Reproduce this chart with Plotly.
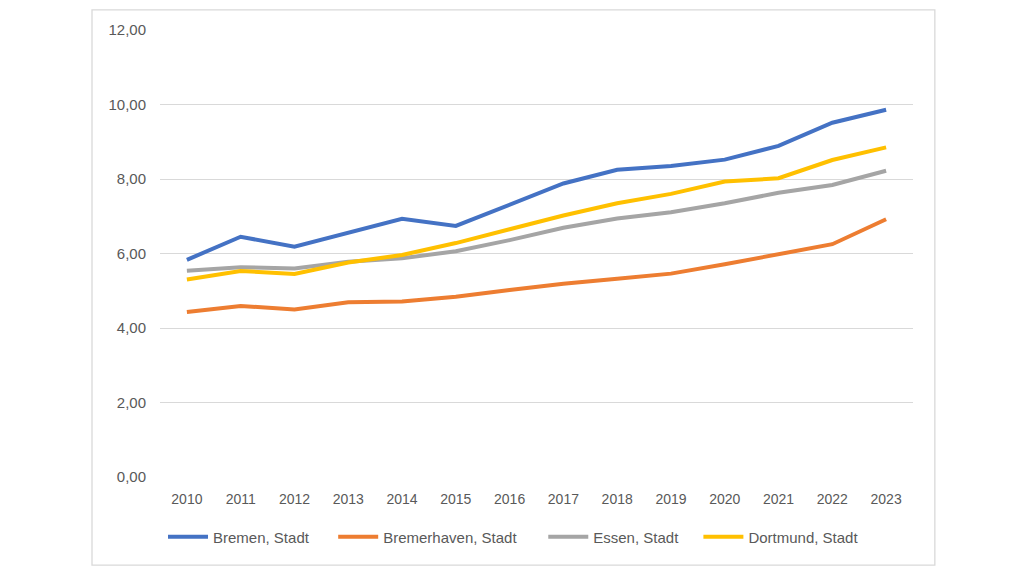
import plotly.graph_objects as go

years = [str(y) for y in range(2010, 2024)]
bremen = [5.83, 6.45, 6.18, 6.55, 6.93, 6.74, 7.30, 7.88, 8.25, 8.35, 8.52, 8.89, 9.51, 9.86]
bremerhaven = [4.43, 4.59, 4.50, 4.69, 4.71, 4.84, 5.02, 5.19, 5.32, 5.46, 5.71, 5.97, 6.25, 6.92]
essen = [5.54, 5.63, 5.60, 5.78, 5.87, 6.06, 6.36, 6.69, 6.94, 7.11, 7.35, 7.63, 7.84, 8.22]
dortmund = [5.30, 5.53, 5.45, 5.76, 5.96, 6.28, 6.65, 7.02, 7.35, 7.60, 7.93, 8.02, 8.51, 8.85]

series = [
    ("Bremen, Stadt", bremen, "#4472C4"),
    ("Bremerhaven, Stadt", bremerhaven, "#ED7D31"),
    ("Essen, Stadt", essen, "#A5A5A5"),
    ("Dortmund, Stadt", dortmund, "#FFC000"),
]
legend_x = [0.004, 0.230, 0.509, 0.715]

FONT = "Liberation Sans Narrow, Liberation Sans, Arial, sans-serif"

fig = go.Figure()
for i, (name, vals, col) in enumerate(series):
    lg = "legend" if i == 0 else f"legend{i+1}"
    fig.add_trace(go.Scatter(x=years, y=vals, name=name, mode="lines",
                             line=dict(color=col, width=4), legend=lg))

legend_common = dict(orientation="h", y=-0.134, yanchor="middle", xanchor="left",
                     font=dict(family=FONT, size=15, color="#595959"),
                     itemwidth=40, bgcolor="rgba(0,0,0,0)", borderwidth=0)

layout_legends = {}
for i, lx in enumerate(legend_x):
    key = "legend" if i == 0 else f"legend{i+1}"
    layout_legends[key] = dict(x=lx, **legend_common)

fig.update_layout(
    width=1008, height=560,
    margin=dict(l=152, r=103, t=22, b=91),
    paper_bgcolor="white", plot_bgcolor="white",
    separators=",.",
    font=dict(family=FONT, size=14, color="#595959"),
    showlegend=True,
    xaxis=dict(type="category", range=[-0.5, 13.5], showgrid=False, showline=False,
               zeroline=False, ticks="", ticklabelstandoff=12,
               tickfont=dict(size=14, color="#595959")),
    yaxis=dict(range=[0, 12], tickvals=[0, 2, 4, 6, 8, 10, 12], tickformat=".2f",
               showgrid=True, gridcolor="#D9D9D9", gridwidth=1.3, zeroline=False,
               showline=False, ticks="", ticklabelstandoff=13,
               tickfont=dict(size=15, color="#595959")),
    shapes=[dict(type="rect", xref="paper", yref="paper",
                 x0=-0.0903, x1=1.029, y0=-0.197, y1=1.045,
                 line=dict(color="#D9D9D9", width=1.3), layer="below")],
    **layout_legends,
)

fig.write_html("out.html")
